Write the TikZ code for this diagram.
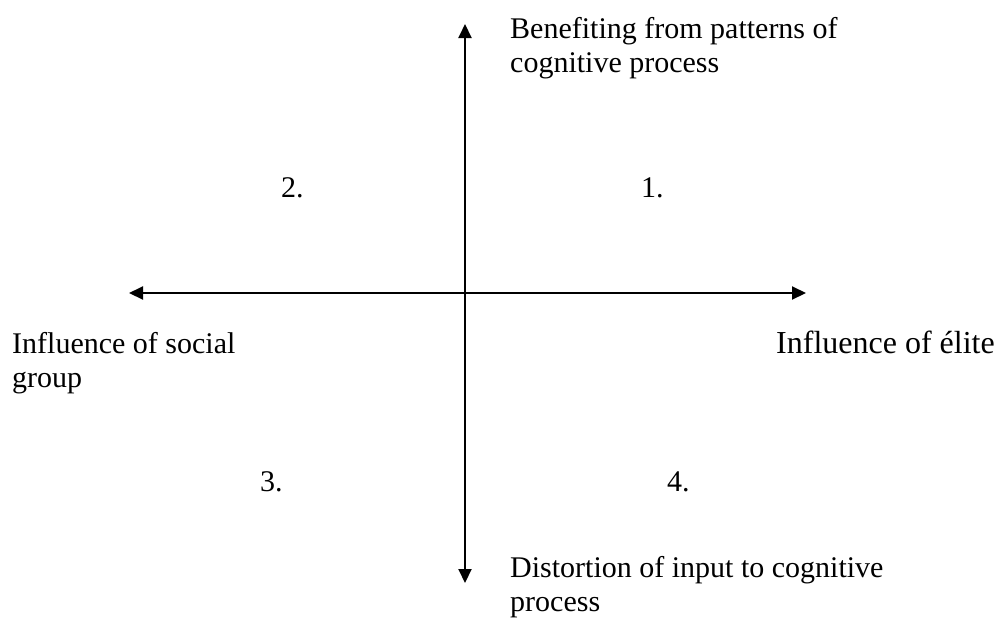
\documentclass[tikz,border=0pt]{standalone}
\usepackage{fontspec}
\setmainfont{Liberation Serif}
\usetikzlibrary{arrows.meta}
\begin{document}
\begin{tikzpicture}[x=1pt,y=-1pt,
  axis/.style={line width=2pt,-{Triangle[length=14pt,width=13pt]}},
  lbl/.style={anchor=base west,inner sep=0pt,align=left,font=\fontsize{30}{34.5}\selectfont}]
\useasboundingbox (0,0) rectangle (1008,619);
\coordinate (c) at (465,293);
\coordinate (top) at (465,24);
\coordinate (bot) at (465,583);
\coordinate (left) at (129,293);
\coordinate (right) at (806,293);
\draw[axis] (c) -- (top);
\draw[axis] (c) -- (bot);
\draw[axis] (c) -- (left);
\draw[axis] (c) -- (right);
\node[lbl] (ttop) at (510,72.5) {Benefiting from patterns of\\cognitive process};
\node[lbl] (tbot) at (510,611.5) {Distortion of input to cognitive\\process};
\node[lbl] (tleft) at (12,387.5) {Influence of social\\group};
\node[lbl,font=\fontsize{32}{36}\selectfont] (tright) at (776,353) {Influence of élite};
\node[lbl] (q1) at (641,197) {1.};
\node[lbl] (q2) at (281,197) {2.};
\node[lbl] (q3) at (260,491) {3.};
\node[lbl] (q4) at (667,491) {4.};
\end{tikzpicture}
\end{document}
